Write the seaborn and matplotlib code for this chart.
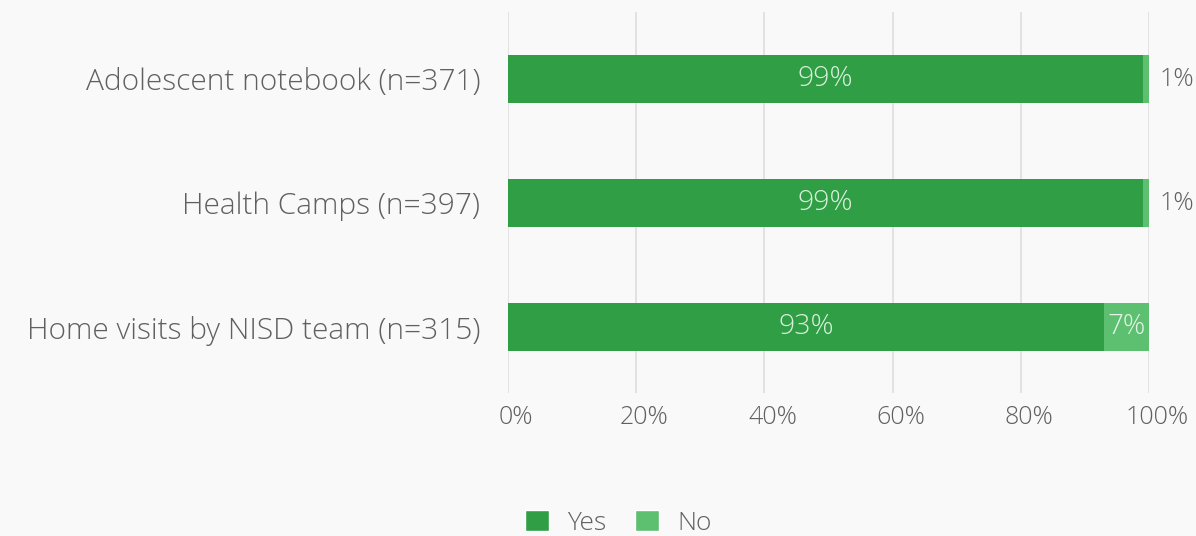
import matplotlib
matplotlib.use("Agg")
import matplotlib.pyplot as plt
import matplotlib.transforms as mtransforms
import seaborn as sns
import pandas as pd
from matplotlib.patches import Patch
from matplotlib.ticker import FuncFormatter

# Survey responses per activity
categories = ["Adolescent notebook (n=371)", "Health Camps (n=397)", "Home visits by NISD team (n=315)"]
yes_pct = [99, 99, 93]
no_pct = [1, 1, 7]
x_ticks = [0, 20, 40, 60, 80, 100]

YES_COLOR = "#2f9e45"
NO_COLOR = "#5dbf70"
TEXT_COLOR = "#606060"
BG = "#f8f9f8"

sns.set_theme(style="white")
plt.rcParams["font.family"] = ["Open Sans", "DejaVu Sans"]
plt.rcParams["font.weight"] = "light"

df = pd.DataFrame({"category": categories, "yes": yes_pct, "no": no_pct})
df["total"] = df["yes"] + df["no"]

fig = plt.figure(figsize=(11.96, 5.36), dpi=100, facecolor=BG)
ax = fig.add_axes([0.4247, 0.2668, 0.536, 0.7108])
ax.set_facecolor(BG)

# stacked bars: full total in light green, "Yes" share on top
sns.barplot(data=df, x="total", y="category", orient="h", color=NO_COLOR,
            width=0.39, ax=ax, saturation=1, linewidth=0, zorder=2)
sns.barplot(data=df, x="yes", y="category", orient="h", color=YES_COLOR,
            width=0.39, ax=ax, saturation=1, linewidth=0, zorder=3)

ax.set_xlim(0, 100)
ax.set_ylim(2.53, -0.54)
ax.set_xticks(x_ticks)
ax.xaxis.set_major_formatter(FuncFormatter(lambda v, p: f"{v:.0f}%"))
ax.grid(axis="x", color="#dcdcdc", linewidth=1.1, zorder=0)
ax.grid(axis="y", visible=False)
for s in ax.spines.values():
    s.set_visible(False)
ax.tick_params(axis="x", length=0, pad=9, labelsize=18, labelcolor=TEXT_COLOR)
ax.tick_params(axis="y", length=0, pad=20, labelsize=21.5, labelcolor=TEXT_COLOR)
shift = mtransforms.ScaledTranslation(6 / 72, 0, fig.dpi_scale_trans)
for lbl in ax.get_xticklabels():
    lbl.set_transform(lbl.get_transform() + shift)
ax.set_xlabel("")
ax.set_ylabel("")

# value labels
for i, (y, n) in enumerate(zip(yes_pct, no_pct)):
    ax.text(y / 2, i, f"{y}%", ha="center", va="center", color="#d9f0dd",
            fontsize=20.5, zorder=4)
    if n >= 5:
        ax.text(y + n / 2, i, f"{n}%", ha="center", va="center", color="#e4f5e7",
                fontsize=20, zorder=4)
    else:
        ax.text(y + n + 1.6, i, f"{n}%", ha="left", va="center", color=TEXT_COLOR,
                fontsize=18, zorder=4)

handles = [Patch(facecolor=YES_COLOR, label="Yes"), Patch(facecolor=NO_COLOR, label="No")]
fig.legend(handles=handles, loc="center", bbox_to_anchor=(0.517, 0.025), ncol=2,
           frameon=False, fontsize=19, handlelength=0.9, handleheight=0.9,
           columnspacing=1.1, handletextpad=0.7, labelcolor=TEXT_COLOR)

fig.savefig("out.png", dpi=100, facecolor=BG)
